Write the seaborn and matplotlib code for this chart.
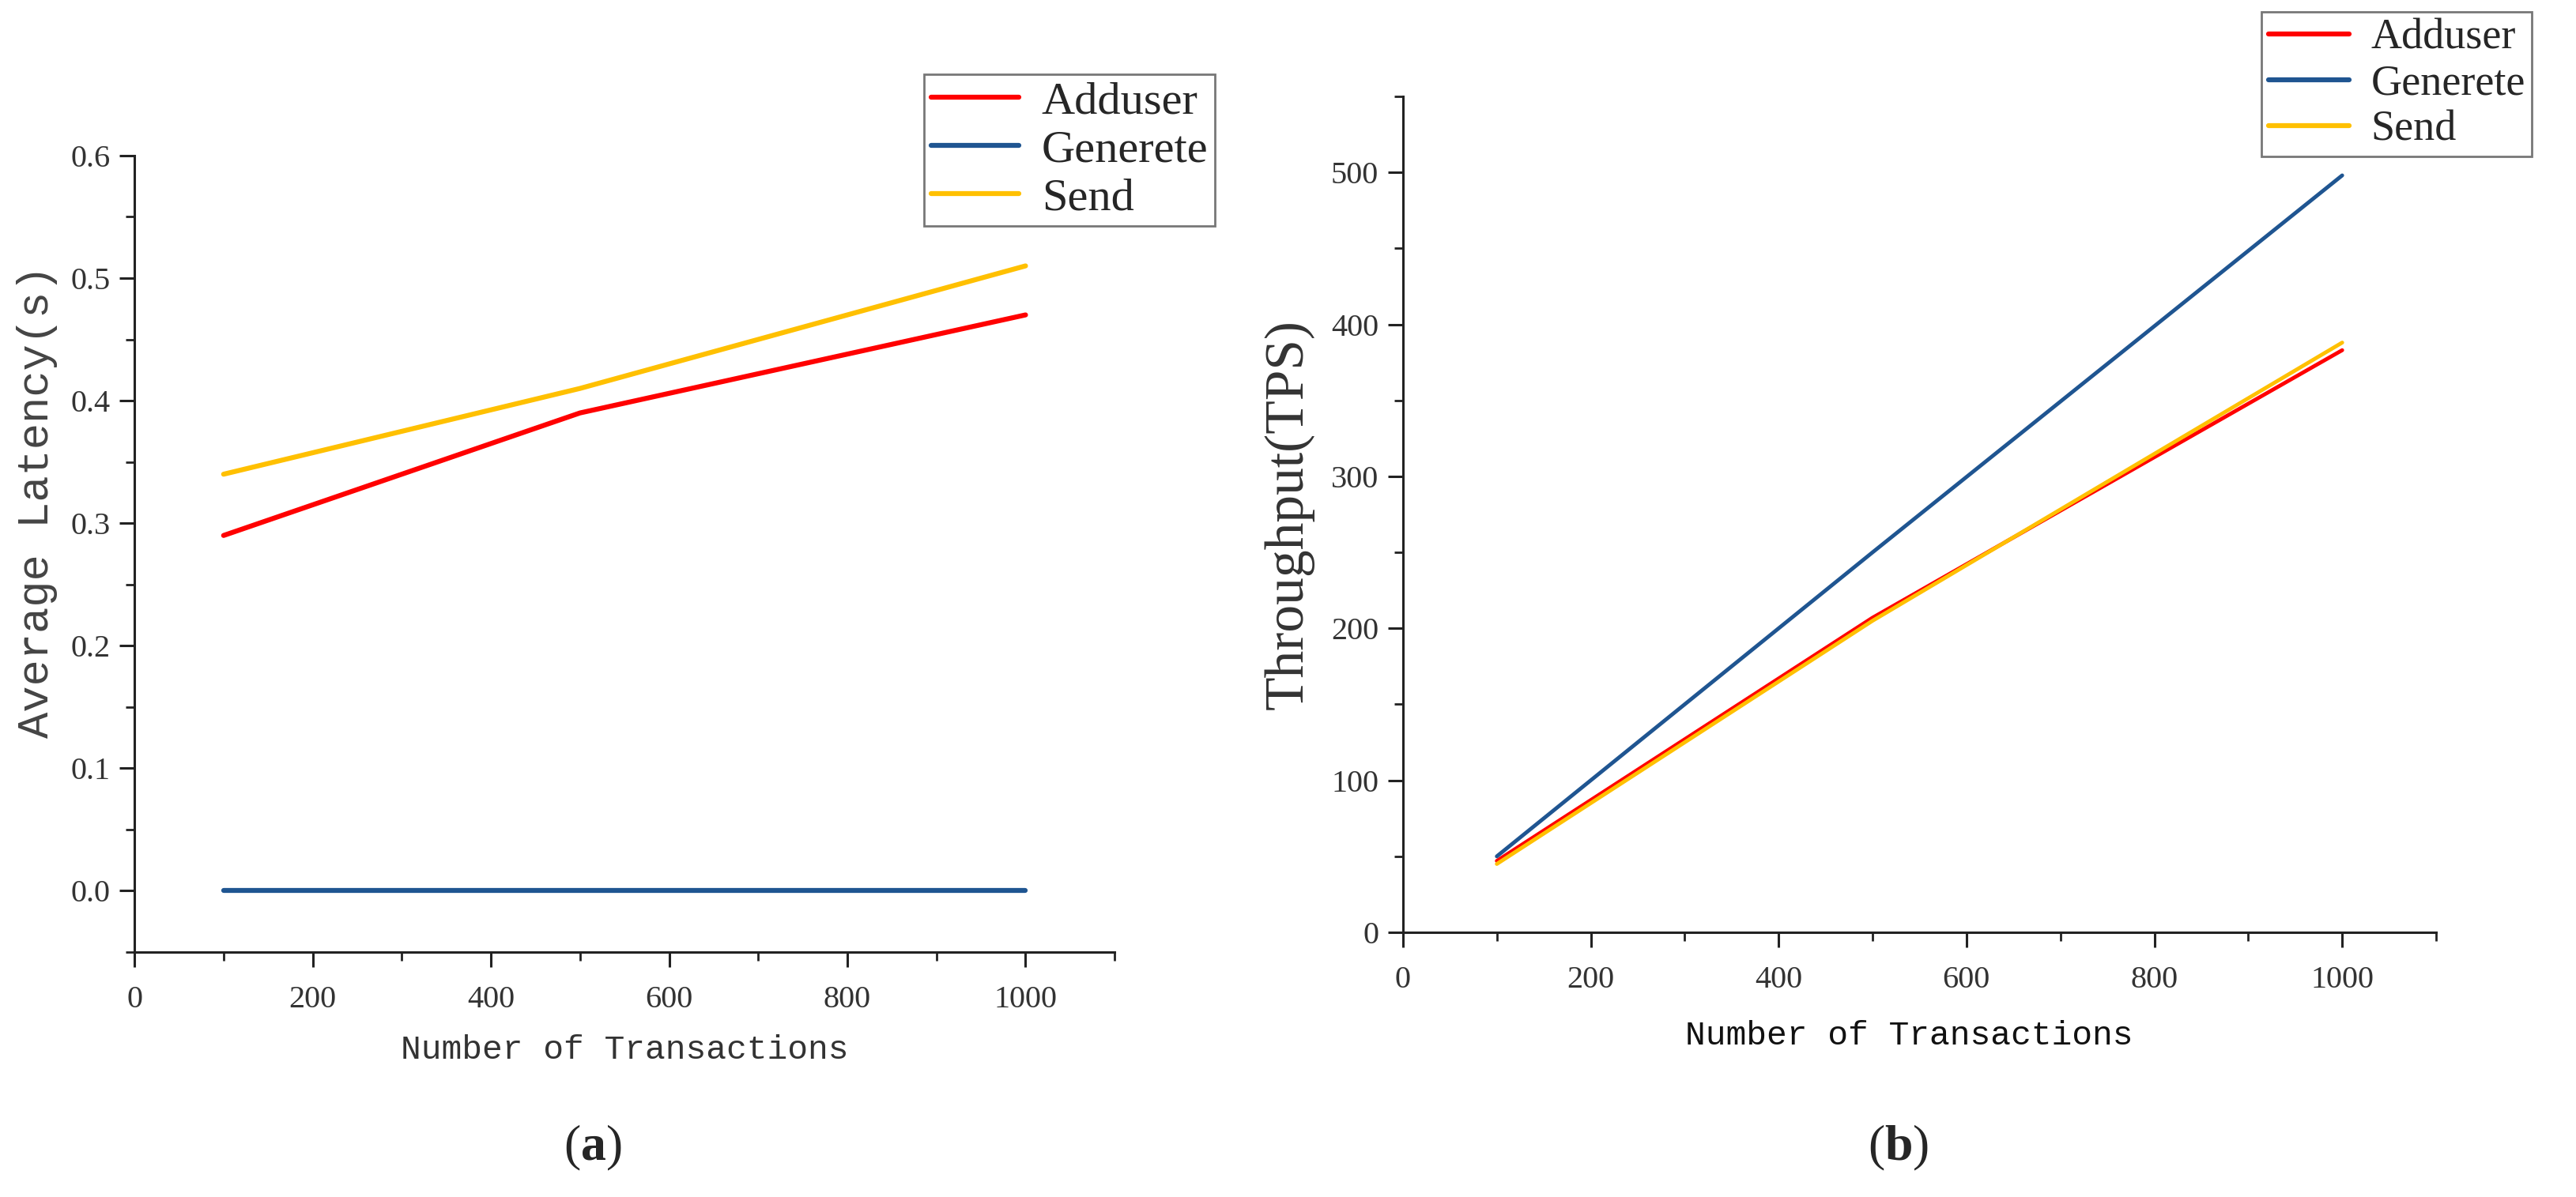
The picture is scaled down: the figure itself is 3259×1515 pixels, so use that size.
import matplotlib
matplotlib.use("Agg")
import matplotlib.pyplot as plt
from matplotlib.ticker import MultipleLocator, FormatStrFormatter
import pandas as pd
import seaborn as sns

# data
tx_counts = [100, 500, 1000]
series_names = ["Adduser", "Generete", "Send"]
latency_adduser = [0.29, 0.39, 0.47]
latency_generete = [0.0, 0.0, 0.0]
latency_send = [0.34, 0.41, 0.51]
tps_adduser = [47, 207, 383]
tps_generete = [50, 250, 498]
tps_send = [45, 205, 388]

colors = {"Adduser": "#ff0000", "Generete": "#1f5591", "Send": "#ffc000"}

sns.set_style("ticks")
plt.rcParams["font.family"] = ["Liberation Serif", "DejaVu Serif"]
plt.rcParams["mathtext.fontset"] = "custom"
plt.rcParams["mathtext.rm"] = "Liberation Serif"
plt.rcParams["mathtext.bf"] = "Liberation Serif:bold"


def long_frame(values):
    rows = []
    for name, ys in zip(series_names, values):
        for x, y in zip(tx_counts, ys):
            rows.append({"tx": x, "value": y, "task": name})
    return pd.DataFrame(rows)


latency_df = long_frame([latency_adduser, latency_generete, latency_send])
tps_df = long_frame([tps_adduser, tps_generete, tps_send])

fig = plt.figure(figsize=(32.59, 15.15), dpi=100)
ax1 = fig.add_axes([0.0522, 0.2046, 0.3805, 0.6654])
ax2 = fig.add_axes([0.5446, 0.2211, 0.4011, 0.6984])

sns.lineplot(data=latency_df, x="tx", y="value", hue="task", palette=colors,
             linewidth=4.5, ax=ax1, legend=True)
sns.lineplot(data=tps_df, x="tx", y="value", hue="task", palette=colors,
             linewidth=3.5, ax=ax2, legend=True)


def style_axes(ax, ymaj, ymin, yfmt):
    ax.set_xlim(0, 1100)
    ax.xaxis.set_major_locator(MultipleLocator(200))
    ax.xaxis.set_minor_locator(MultipleLocator(100))
    ax.yaxis.set_major_locator(MultipleLocator(ymaj))
    ax.yaxis.set_minor_locator(MultipleLocator(ymin))
    ax.yaxis.set_major_formatter(FormatStrFormatter(yfmt))
    for side in ["top", "right"]:
        ax.spines[side].set_visible(False)
    for side in ["left", "bottom"]:
        ax.spines[side].set_linewidth(2.2)
        ax.spines[side].set_color("#222222")
    ax.tick_params(axis="both", which="major", length=14, width=2.2,
                   labelsize=29, colors="#222222", labelcolor="#333333")
    ax.tick_params(axis="both", which="minor", length=8, width=2.0,
                   colors="#222222")
    ax.tick_params(axis="x", which="major", pad=16)
    ax.tick_params(axis="y", which="major", pad=8)


style_axes(ax1, 0.1, 0.05, "%.1f")
ax1.set_ylim(-0.05, 0.6)
style_axes(ax2, 100, 50, "%d")
ax2.set_ylim(0, 550)

ax1.set_xlabel("Number of Transactions", family=["Liberation Mono"],
               fontsize=31, color="#333333", labelpad=18)
ax1.set_ylabel("Average Latency(s)", family=["Liberation Mono"],
               fontsize=40, color="#444444")
ax1.yaxis.set_label_coords(-0.078, 0.566)
ax2.set_xlabel("Number of Transactions", family=["Liberation Mono"],
               fontsize=31, color="#111111")
ax2.xaxis.set_label_coords(0.49, -0.105)
ax2.set_ylabel("Throughput(TPS)", fontsize=50, color="#333333")
ax2.yaxis.set_label_coords(-0.086, 0.5)

for ax, anchor, fsize in [(ax1, (0.3587, 0.938), 42), (ax2, (0.878, 0.990), 39)]:
    leg = ax.legend(loc="upper left", bbox_to_anchor=anchor,
                    bbox_transform=fig.transFigure, borderaxespad=0,
                    fontsize=fsize, frameon=True, fancybox=False,
                    handlelength=1.9, handletextpad=0.5, labelspacing=0.14,
                    borderpad=0.15, title=None)
    leg.get_frame().set_edgecolor("#555555")
    leg.get_frame().set_linewidth(2.0)
    for line in leg.get_lines():
        line.set_linewidth(4.5)

fig.text(0.230, 0.041, r"($\mathbf{a}$)", ha="center", va="center", fontsize=46)
fig.text(0.737, 0.041, r"($\mathbf{b}$)", ha="center", va="center", fontsize=46)

fig.savefig("out.png", dpi=100)
